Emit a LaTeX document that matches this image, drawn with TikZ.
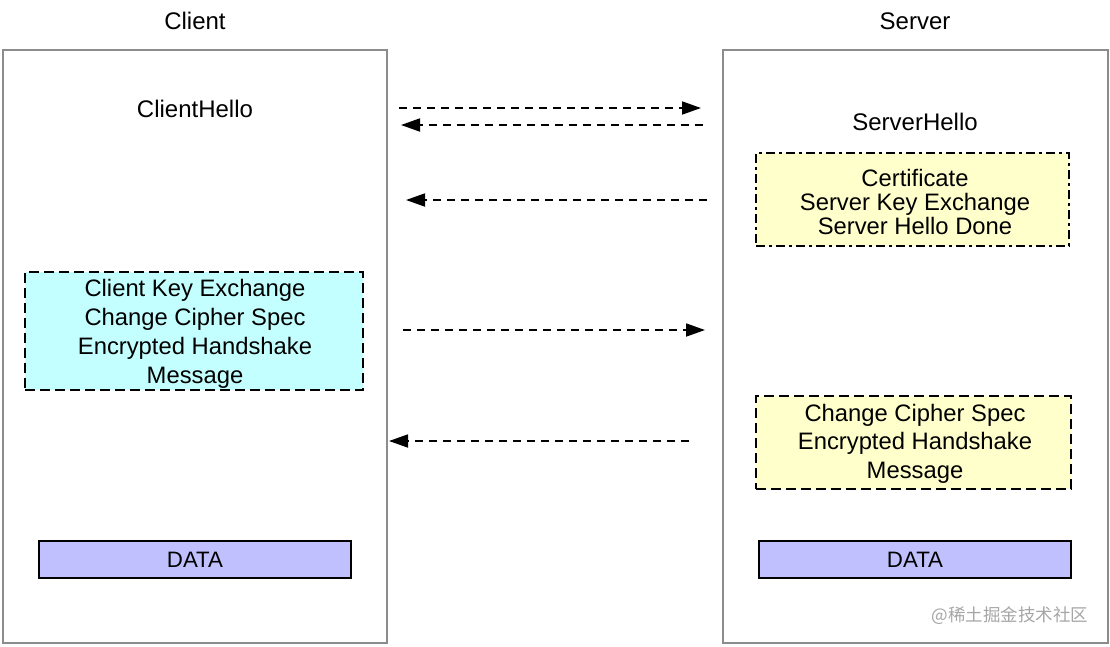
\documentclass[tikz,border=0pt]{standalone}
\usepackage{fontspec}
\setmainfont{Liberation Sans}
\newfontfamily\cjkfont{Noto Sans CJK SC}
\usetikzlibrary{arrows.meta}
\definecolor{lanegray}{HTML}{8C8C8C}
\definecolor{lightcyan}{HTML}{C4FFFF}
\definecolor{lightyellow}{HTML}{FFFFCC}
\definecolor{lavender}{HTML}{C0C0FF}
\definecolor{wmgray}{HTML}{A6A6A6}
\tikzset{
  lane/.style={draw=lanegray, line width=1.4pt, fill=white, rectangle, inner sep=0pt},
  title/.style={font=\fontsize{24}{28}\selectfont, inner sep=0pt},
  msgbox/.style={rectangle, draw=black, line width=1.8pt, inner sep=0pt},
  dashbox/.style={msgbox, dash pattern=on 10pt off 5pt},
  dotdashbox/.style={msgbox, dash pattern=on 9pt off 4pt on 3pt off 4pt},
  boxtext/.style={inner sep=0pt, align=center},
  databox/.style={rectangle, draw=black, line width=1.8pt, fill=lavender, inner sep=0pt,
    minimum width=312pt, minimum height=37pt, font=\fontsize{22.3}{26}\selectfont},
  msg/.style={line width=1.8pt, dash pattern=on 8pt off 6pt,
    -{Triangle[length=19pt,width=13pt]}},
}
\begin{document}
\begin{tikzpicture}[x=1pt,y=-1pt]
\useasboundingbox (0,0) rectangle (1110,646);
% lanes
\node[lane, minimum width=384pt, minimum height=593pt] (clientlane) at (195,346.5) {};
\node[lane, minimum width=385pt, minimum height=593pt] (serverlane) at (915.5,346.5) {};
\node[title] (clienttitle) at (195,21) {Client};
\node[title] (servertitle) at (915,21) {Server};
% texts
\node[title] (chello) at (195,109) {ClientHello};
\node[title] (shello) at (915,122) {ServerHello};
% boxes
\node[dotdashbox, fill=lightyellow, minimum width=313pt, minimum height=93pt] (cert) at (912.5,199.5) {};
\node[boxtext, font=\fontsize{23.8}{24}\selectfont] (certtext) at (915,202)
  {Certificate\\Server Key Exchange\\Server Hello Done};
\node[dashbox, fill=lightcyan, minimum width=338pt, minimum height=118pt] (ckx) at (194,331) {};
\node[boxtext, font=\fontsize{23.8}{29}\selectfont] (ckxtext) at (195,334)
  {Client Key Exchange\\Change Cipher Spec\\Encrypted Handshake\\Message};
\node[dashbox, fill=lightyellow, minimum width=315pt, minimum height=93pt] (sccs) at (913.5,442.5) {};
\node[boxtext, font=\fontsize{23.8}{28.5}\selectfont] (sccstext) at (915,443.5)
  {Change Cipher Spec\\Encrypted Handshake\\Message};
\node[databox] (cdata) at (195,559.5) {DATA};
\node[databox] (sdata) at (915,559.5) {DATA};
% arrows
\coordinate (a1s) at (399,108); \coordinate (a1e) at (701,108);
\coordinate (a2s) at (703,125); \coordinate (a2e) at (401,125);
\coordinate (a3s) at (707,200); \coordinate (a3e) at (406,200);
\coordinate (a4s) at (403,330); \coordinate (a4e) at (705,330);
\coordinate (a5s) at (689,441); \coordinate (a5e) at (389,441);
\draw[msg] (a1s) -- (a1e);
\draw[msg] (a2s) -- (a2e);
\draw[msg] (a3s) -- (a3e);
\draw[msg] (a4s) -- (a4e);
\draw[msg] (a5s) -- (a5e);
% watermark
\node[text=wmgray, font=\cjkfont\fontsize{17.5}{20}\selectfont, inner sep=0pt] (wm) at (1010,616) {@稀土掘金技术社区};
\end{tikzpicture}
\end{document}
